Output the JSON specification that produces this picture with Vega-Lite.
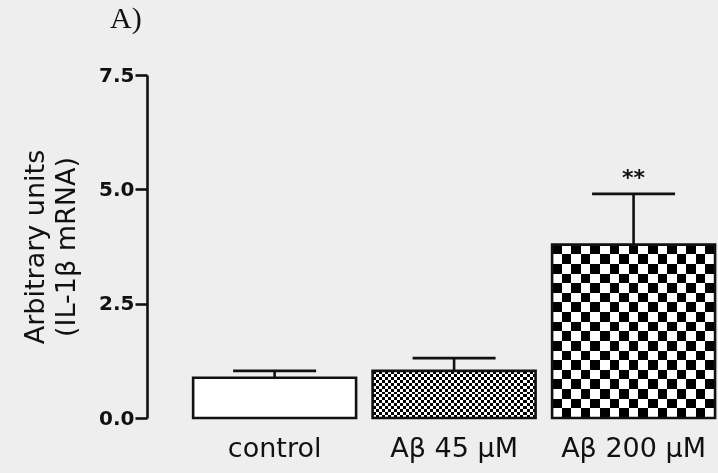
{
  "$schema": "https://vega.github.io/schema/vega-lite/v6.json",
  "width": 571,
  "height": 343,
  "autosize": "none",
  "padding": {"left": 147, "top": 75, "right": 0, "bottom": 55},
  "background": "#eeeeee",
  "title": {"text": "A)", "anchor": "start", "frame": "group", "dx": -37, "offset": 7, "baseline": "alphabetic", "font": "Liberation Serif", "fontSize": 30, "fontWeight": "normal", "color": "#111111"},
  "config": {"view": {"stroke": null}},
  "data": {"values": [
    {"group": "control", "value": 0.88, "upper": 1.03, "sig": ""},
    {"group": "Aβ 45 μM", "value": 1.03, "upper": 1.31, "sig": ""},
    {"group": "Aβ 200 μM", "value": 3.79, "upper": 4.9, "sig": "**"}
  ]},
  "encoding": {
    "x": {"field": "group", "type": "nominal", "sort": null,
      "scale": {"domain": ["control", "Aβ 45 μM", "Aβ 200 μM"], "paddingInner": 0.092, "paddingOuter": 0.1367, "align": 0.94},
      "axis": {"title": null, "domain": false, "ticks": false, "tickSize": 0, "labelAngle": 0, "labelFont": "DejaVu Sans", "labelFontSize": 27, "labelColor": "#111111", "labelPadding": 17}},
    "y": {"type": "quantitative", "scale": {"domain": [0, 7.5], "nice": false},
      "axis": {"title": ["Arbitrary units", "(IL-1β mRNA)"], "titleFont": "DejaVu Sans", "titleFontSize": 27, "titleFontWeight": "normal", "titleColor": "#111111", "titleLineHeight": 31, "titlePadding": 18,
        "values": [0, 2.5, 5, 7.5], "format": ".1f", "grid": false, "domainColor": "#111111", "domainWidth": 2.6, "tickColor": "#111111", "tickWidth": 2.6, "tickSize": 12,
        "labelFont": "DejaVu Sans", "labelFontWeight": "bold", "labelFontSize": 20, "labelColor": "#111111", "labelPadding": 1}}
  },
  "layer": [
    {"mark": {"type": "rule", "color": "#111111", "strokeWidth": 2.6}, "encoding": {"y": {"field": "value"}, "y2": {"field": "upper"}}},
    {"mark": {"type": "tick", "color": "#111111", "size": 83, "thickness": 2.6, "opacity": 1}, "encoding": {"y": {"field": "upper"}}},
    {"transform": [{"filter": "datum.group === 'control'"}], "mark": {"type": "bar", "fill": "#ffffff"}, "encoding": {"y": {"field": "value"}}},
    {"transform": [{"filter": "datum.group === 'Aβ 45 μM'"}], "mark": {"type": "bar", "fill": {"gradient": "linear", "x1": 0, "y1": 0, "x2": 1, "y2": 0, "stops": [
      {"offset": 0, "color": "#000000"},{"offset": 0.0185, "color": "#000000"},{"offset": 0.0185, "color": "#ffffff"},{"offset": 0.0370, "color": "#ffffff"},{"offset": 0.0370, "color": "#000000"},{"offset": 0.0556, "color": "#000000"},{"offset": 0.0556, "color": "#ffffff"},{"offset": 0.0741, "color": "#ffffff"},{"offset": 0.0741, "color": "#000000"},{"offset": 0.0926, "color": "#000000"},{"offset": 0.0926, "color": "#ffffff"},{"offset": 0.1111, "color": "#ffffff"},{"offset": 0.1111, "color": "#000000"},{"offset": 0.1296, "color": "#000000"},{"offset": 0.1296, "color": "#ffffff"},{"offset": 0.1481, "color": "#ffffff"},{"offset": 0.1481, "color": "#000000"},{"offset": 0.1667, "color": "#000000"},{"offset": 0.1667, "color": "#ffffff"},{"offset": 0.1852, "color": "#ffffff"},{"offset": 0.1852, "color": "#000000"},{"offset": 0.2037, "color": "#000000"},{"offset": 0.2037, "color": "#ffffff"},{"offset": 0.2222, "color": "#ffffff"},{"offset": 0.2222, "color": "#000000"},{"offset": 0.2407, "color": "#000000"},{"offset": 0.2407, "color": "#ffffff"},{"offset": 0.2593, "color": "#ffffff"},{"offset": 0.2593, "color": "#000000"},{"offset": 0.2778, "color": "#000000"},{"offset": 0.2778, "color": "#ffffff"},{"offset": 0.2963, "color": "#ffffff"},{"offset": 0.2963, "color": "#000000"},{"offset": 0.3148, "color": "#000000"},{"offset": 0.3148, "color": "#ffffff"},{"offset": 0.3333, "color": "#ffffff"},{"offset": 0.3333, "color": "#000000"},{"offset": 0.3519, "color": "#000000"},{"offset": 0.3519, "color": "#ffffff"},{"offset": 0.3704, "color": "#ffffff"},{"offset": 0.3704, "color": "#000000"},{"offset": 0.3889, "color": "#000000"},{"offset": 0.3889, "color": "#ffffff"},{"offset": 0.4074, "color": "#ffffff"},{"offset": 0.4074, "color": "#000000"},{"offset": 0.4259, "color": "#000000"},{"offset": 0.4259, "color": "#ffffff"},{"offset": 0.4444, "color": "#ffffff"},{"offset": 0.4444, "color": "#000000"},{"offset": 0.4630, "color": "#000000"},{"offset": 0.4630, "color": "#ffffff"},{"offset": 0.4815, "color": "#ffffff"},{"offset": 0.4815, "color": "#000000"},{"offset": 0.5, "color": "#000000"},{"offset": 0.5, "color": "#ffffff"},{"offset": 0.5185, "color": "#ffffff"},{"offset": 0.5185, "color": "#000000"},{"offset": 0.5370, "color": "#000000"},{"offset": 0.5370, "color": "#ffffff"},{"offset": 0.5556, "color": "#ffffff"},{"offset": 0.5556, "color": "#000000"},{"offset": 0.5741, "color": "#000000"},{"offset": 0.5741, "color": "#ffffff"},{"offset": 0.5926, "color": "#ffffff"},{"offset": 0.5926, "color": "#000000"},{"offset": 0.6111, "color": "#000000"},{"offset": 0.6111, "color": "#ffffff"},{"offset": 0.6296, "color": "#ffffff"},{"offset": 0.6296, "color": "#000000"},{"offset": 0.6481, "color": "#000000"},{"offset": 0.6481, "color": "#ffffff"},{"offset": 0.6667, "color": "#ffffff"},{"offset": 0.6667, "color": "#000000"},{"offset": 0.6852, "color": "#000000"},{"offset": 0.6852, "color": "#ffffff"},{"offset": 0.7037, "color": "#ffffff"},{"offset": 0.7037, "color": "#000000"},{"offset": 0.7222, "color": "#000000"},{"offset": 0.7222, "color": "#ffffff"},{"offset": 0.7407, "color": "#ffffff"},{"offset": 0.7407, "color": "#000000"},{"offset": 0.7593, "color": "#000000"},{"offset": 0.7593, "color": "#ffffff"},{"offset": 0.7778, "color": "#ffffff"},{"offset": 0.7778, "color": "#000000"},{"offset": 0.7963, "color": "#000000"},{"offset": 0.7963, "color": "#ffffff"},{"offset": 0.8148, "color": "#ffffff"},{"offset": 0.8148, "color": "#000000"},{"offset": 0.8333, "color": "#000000"},{"offset": 0.8333, "color": "#ffffff"},{"offset": 0.8519, "color": "#ffffff"},{"offset": 0.8519, "color": "#000000"},{"offset": 0.8704, "color": "#000000"},{"offset": 0.8704, "color": "#ffffff"},{"offset": 0.8889, "color": "#ffffff"},{"offset": 0.8889, "color": "#000000"},{"offset": 0.9074, "color": "#000000"},{"offset": 0.9074, "color": "#ffffff"},{"offset": 0.9259, "color": "#ffffff"},{"offset": 0.9259, "color": "#000000"},{"offset": 0.9444, "color": "#000000"},{"offset": 0.9444, "color": "#ffffff"},{"offset": 0.9630, "color": "#ffffff"},{"offset": 0.9630, "color": "#000000"},{"offset": 0.9815, "color": "#000000"},{"offset": 0.9815, "color": "#ffffff"},{"offset": 1, "color": "#ffffff"}
    ]}}, "encoding": {"y": {"field": "value"}}},
    {"transform": [{"filter": "datum.group === 'Aβ 45 μM'"}], "mark": {"type": "bar", "blend": "difference", "fill": {"gradient": "linear", "x1": 0, "y1": 0, "x2": 0, "y2": 1, "stops": [
      {"offset": 0, "color": "#000000"},{"offset": 0.0625, "color": "#000000"},{"offset": 0.0625, "color": "#ffffff"},{"offset": 0.125, "color": "#ffffff"},{"offset": 0.125, "color": "#000000"},{"offset": 0.1875, "color": "#000000"},{"offset": 0.1875, "color": "#ffffff"},{"offset": 0.25, "color": "#ffffff"},{"offset": 0.25, "color": "#000000"},{"offset": 0.3125, "color": "#000000"},{"offset": 0.3125, "color": "#ffffff"},{"offset": 0.375, "color": "#ffffff"},{"offset": 0.375, "color": "#000000"},{"offset": 0.4375, "color": "#000000"},{"offset": 0.4375, "color": "#ffffff"},{"offset": 0.5, "color": "#ffffff"},{"offset": 0.5, "color": "#000000"},{"offset": 0.5625, "color": "#000000"},{"offset": 0.5625, "color": "#ffffff"},{"offset": 0.625, "color": "#ffffff"},{"offset": 0.625, "color": "#000000"},{"offset": 0.6875, "color": "#000000"},{"offset": 0.6875, "color": "#ffffff"},{"offset": 0.75, "color": "#ffffff"},{"offset": 0.75, "color": "#000000"},{"offset": 0.8125, "color": "#000000"},{"offset": 0.8125, "color": "#ffffff"},{"offset": 0.875, "color": "#ffffff"},{"offset": 0.875, "color": "#000000"},{"offset": 0.9375, "color": "#000000"},{"offset": 0.9375, "color": "#ffffff"},{"offset": 1, "color": "#ffffff"}
    ]}}, "encoding": {"y": {"field": "value"}}},
    {"transform": [{"filter": "datum.group === 'Aβ 200 μM'"}], "mark": {"type": "bar", "fill": {"gradient": "linear", "x1": 0, "y1": 0, "x2": 1, "y2": 0, "stops": [
      {"offset": 0, "color": "#000000"},{"offset": 0.0588, "color": "#000000"},{"offset": 0.0588, "color": "#ffffff"},{"offset": 0.1176, "color": "#ffffff"},{"offset": 0.1176, "color": "#000000"},{"offset": 0.1765, "color": "#000000"},{"offset": 0.1765, "color": "#ffffff"},{"offset": 0.2353, "color": "#ffffff"},{"offset": 0.2353, "color": "#000000"},{"offset": 0.2941, "color": "#000000"},{"offset": 0.2941, "color": "#ffffff"},{"offset": 0.3529, "color": "#ffffff"},{"offset": 0.3529, "color": "#000000"},{"offset": 0.4118, "color": "#000000"},{"offset": 0.4118, "color": "#ffffff"},{"offset": 0.4706, "color": "#ffffff"},{"offset": 0.4706, "color": "#000000"},{"offset": 0.5294, "color": "#000000"},{"offset": 0.5294, "color": "#ffffff"},{"offset": 0.5882, "color": "#ffffff"},{"offset": 0.5882, "color": "#000000"},{"offset": 0.6471, "color": "#000000"},{"offset": 0.6471, "color": "#ffffff"},{"offset": 0.7059, "color": "#ffffff"},{"offset": 0.7059, "color": "#000000"},{"offset": 0.7647, "color": "#000000"},{"offset": 0.7647, "color": "#ffffff"},{"offset": 0.8235, "color": "#ffffff"},{"offset": 0.8235, "color": "#000000"},{"offset": 0.8824, "color": "#000000"},{"offset": 0.8824, "color": "#ffffff"},{"offset": 0.9412, "color": "#ffffff"},{"offset": 0.9412, "color": "#000000"},{"offset": 1, "color": "#000000"}
    ]}}, "encoding": {"y": {"field": "value"}}},
    {"transform": [{"filter": "datum.group === 'Aβ 200 μM'"}], "mark": {"type": "bar", "blend": "difference", "fill": {"gradient": "linear", "x1": 0, "y1": 0, "x2": 0, "y2": 1, "stops": [
      {"offset": 0, "color": "#000000"},{"offset": 0.0556, "color": "#000000"},{"offset": 0.0556, "color": "#ffffff"},{"offset": 0.1111, "color": "#ffffff"},{"offset": 0.1111, "color": "#000000"},{"offset": 0.1667, "color": "#000000"},{"offset": 0.1667, "color": "#ffffff"},{"offset": 0.2222, "color": "#ffffff"},{"offset": 0.2222, "color": "#000000"},{"offset": 0.2778, "color": "#000000"},{"offset": 0.2778, "color": "#ffffff"},{"offset": 0.3333, "color": "#ffffff"},{"offset": 0.3333, "color": "#000000"},{"offset": 0.3889, "color": "#000000"},{"offset": 0.3889, "color": "#ffffff"},{"offset": 0.4444, "color": "#ffffff"},{"offset": 0.4444, "color": "#000000"},{"offset": 0.5, "color": "#000000"},{"offset": 0.5, "color": "#ffffff"},{"offset": 0.5556, "color": "#ffffff"},{"offset": 0.5556, "color": "#000000"},{"offset": 0.6111, "color": "#000000"},{"offset": 0.6111, "color": "#ffffff"},{"offset": 0.6667, "color": "#ffffff"},{"offset": 0.6667, "color": "#000000"},{"offset": 0.7222, "color": "#000000"},{"offset": 0.7222, "color": "#ffffff"},{"offset": 0.7778, "color": "#ffffff"},{"offset": 0.7778, "color": "#000000"},{"offset": 0.8333, "color": "#000000"},{"offset": 0.8333, "color": "#ffffff"},{"offset": 0.8889, "color": "#ffffff"},{"offset": 0.8889, "color": "#000000"},{"offset": 0.9444, "color": "#000000"},{"offset": 0.9444, "color": "#ffffff"},{"offset": 1, "color": "#ffffff"}
    ]}}, "encoding": {"y": {"field": "value"}}},
    {"mark": {"type": "bar", "fill": null, "fillOpacity": 0, "stroke": "#111111", "strokeWidth": 2.6}, "encoding": {"y": {"field": "value"}}},
    {"mark": {"type": "text", "font": "DejaVu Sans", "fontWeight": "bold", "fontSize": 22, "baseline": "alphabetic", "dy": -9, "color": "#111111"}, "encoding": {"y": {"field": "upper"}, "text": {"field": "sig"}}}
  ]
}
